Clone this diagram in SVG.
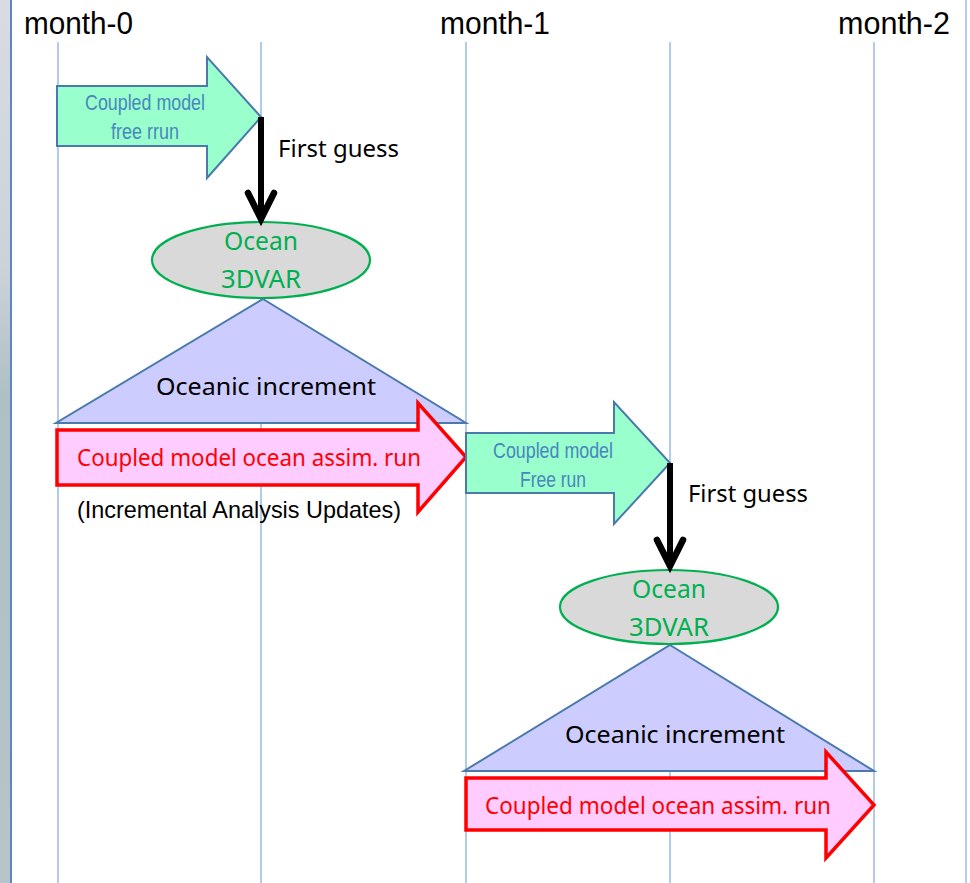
<svg xmlns="http://www.w3.org/2000/svg" width="970" height="883" viewBox="0 0 970 883">
<style>
.grid{stroke:#7ea8dd;stroke-width:1.2}
.month{font-family:"Liberation Sans",Arial,sans-serif;font-size:31px;fill:#000}
.green{fill:#99ffcc;stroke:#4a79ad;stroke-width:2;stroke-linejoin:miter}
.gtxt{font-family:"Liberation Sans",Arial,sans-serif;font-size:22.5px;fill:#4a86be;text-anchor:middle}
.red{fill:#ffccff;stroke:#ff0000;stroke-width:3.5;stroke-linejoin:miter}
.rtxt{font-family:"Noto Sans","Open Sans",sans-serif;font-size:24px;fill:#ff0000}
.ell{fill:#d9d9d9;stroke:#00b050;stroke-width:2.2}
.etxt{font-family:"Noto Sans","Open Sans",sans-serif;font-size:25.5px;fill:#00b050;text-anchor:middle}
.tri{fill:#ccccff;stroke:#4a79ad;stroke-width:2}
.btxt{font-family:"Noto Sans","Open Sans",sans-serif;font-size:24px;fill:#000}
.fg{stroke:#000;stroke-width:6;fill:none;stroke-linecap:butt}
.head{stroke:#000;stroke-width:6.5;fill:none;stroke-linecap:round;stroke-linejoin:miter}
</style>
<defs>
<linearGradient id="strip" x1="0" y1="0" x2="0" y2="1">
<stop offset="0" stop-color="#d8dbe3"/>
<stop offset="0.3" stop-color="#cdd2da"/>
<stop offset="0.45" stop-color="#aebfc6"/>
<stop offset="1" stop-color="#b7c4ca"/>
</linearGradient>
</defs>
<rect x="0" y="0" width="970" height="883" fill="#ffffff"/>
<rect x="0" y="0" width="10" height="883" fill="url(#strip)"/>
<line x1="11" y1="0" x2="11" y2="883" stroke="#5b87c5" stroke-width="2"/>
<line x1="966" y1="0" x2="966" y2="883" stroke="#9dbde0" stroke-width="1.5"/>

<g id="grid">
<line class="grid" x1="58" y1="42" x2="58" y2="883"/>
<line class="grid" x1="261" y1="42" x2="261" y2="883"/>
<line class="grid" x1="466" y1="42" x2="466" y2="883"/>
<line class="grid" x1="670" y1="42" x2="670" y2="883"/>
<line class="grid" x1="874" y1="42" x2="874" y2="883"/>
</g>

<g id="labels">
<text class="month" x="24" y="34" textLength="109" lengthAdjust="spacingAndGlyphs">month-0</text>
<text class="month" x="440" y="34" textLength="110" lengthAdjust="spacingAndGlyphs">month-1</text>
<text class="month" x="838" y="34" textLength="112" lengthAdjust="spacingAndGlyphs">month-2</text>
</g>

<g id="free-run-1">
<polygon class="green" points="57,86 207,86 207,57 261,117 207,178 207,146 57,146"/>
<text class="gtxt" x="145" y="110" textLength="120" lengthAdjust="spacingAndGlyphs">Coupled model</text>
<text class="gtxt" x="145" y="139" textLength="68" lengthAdjust="spacingAndGlyphs">free rrun</text>
</g>

<g id="increment-1">
<polygon class="tri" points="263,299 466,423 56,423"/>
<text class="btxt" x="266" y="395" text-anchor="middle" textLength="220" lengthAdjust="spacingAndGlyphs">Oceanic increment</text>
</g>

<g id="ocean3dvar-1">
<ellipse class="ell" cx="261" cy="260" rx="109" ry="38"/>
<text class="etxt" x="261" y="250" textLength="74" lengthAdjust="spacingAndGlyphs">Ocean</text>
<text class="etxt" x="261" y="288" textLength="80" lengthAdjust="spacingAndGlyphs">3DVAR</text>
</g>

<g id="assim-run-1">
<polygon class="red" points="57,430 418,430 418,403 466,457 418,512 418,485 57,485"/>
<text class="rtxt" x="77" y="466" textLength="344" lengthAdjust="spacingAndGlyphs">Coupled model ocean assim. run</text>
</g>
<text id="iau" x="77" y="518" font-family="Liberation Sans, Arial, sans-serif" font-size="24" fill="#000" textLength="324" lengthAdjust="spacingAndGlyphs">(Incremental  Analysis  Updates)</text>

<g id="free-run-2">
<polygon class="green" points="466,433 614,433 614,402 670,463 614,524 614,493 466,493"/>
<text class="gtxt" x="553" y="458" textLength="120" lengthAdjust="spacingAndGlyphs">Coupled model</text>
<text class="gtxt" x="553" y="487" textLength="66" lengthAdjust="spacingAndGlyphs">Free run</text>
</g>

<g id="increment-2">
<polygon class="tri" points="670,645 874,771 464,771"/>
<text class="btxt" x="675" y="743" text-anchor="middle" textLength="220" lengthAdjust="spacingAndGlyphs">Oceanic increment</text>
</g>

<g id="ocean3dvar-2">
<ellipse class="ell" cx="669" cy="607" rx="109" ry="37"/>
<text class="etxt" x="669" y="598" textLength="74" lengthAdjust="spacingAndGlyphs">Ocean</text>
<text class="etxt" x="669" y="636" textLength="80" lengthAdjust="spacingAndGlyphs">3DVAR</text>
</g>

<g id="assim-run-2">
<polygon class="red" points="466,778 826,778 826,752 874,805 826,858 826,830 466,830"/>
<text class="rtxt" x="485" y="814" textLength="346" lengthAdjust="spacingAndGlyphs">Coupled model ocean assim. run</text>
</g>

<g id="connectors">
<line class="fg" x1="261" y1="117" x2="261" y2="218"/>
<polyline class="head" points="248,193 261,219 274,193"/>
<text class="btxt" x="278" y="157" textLength="121" lengthAdjust="spacingAndGlyphs">First guess</text>
<line class="fg" x1="670" y1="463" x2="670" y2="565"/>
<polyline class="head" points="657,540 670,566 683,540"/>
<text class="btxt" x="688" y="502" textLength="120" lengthAdjust="spacingAndGlyphs">First guess</text>
</g>
</svg>
